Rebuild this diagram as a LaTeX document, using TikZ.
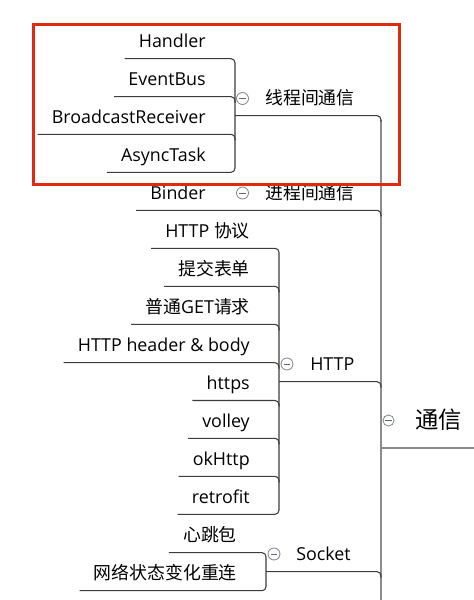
\documentclass[tikz,border=0pt]{standalone}
\usepackage{fontspec}
\setmainfont{Open Sans}
\newfontfamily\cjk{Noto Sans CJK SC}
\definecolor{linedark}{RGB}{60,60,60}
\definecolor{trunkgray}{RGB}{140,140,140}
\definecolor{foldgray}{RGB}{130,130,130}
\definecolor{minusblue}{RGB}{90,100,150}
\definecolor{framered}{RGB}{224,42,16}
\begin{document}
\begin{tikzpicture}[x=0.75pt,y=-0.75pt,
  txt/.style={font=\fontsize{13.4}{15}\selectfont, text=black},
  topic/.style={txt, inner xsep=10.5pt, inner ysep=0pt, text height=10pt, text depth=7.9pt, anchor=south east},
  ptopic/.style={txt, inner xsep=10.5pt, inner ysep=0pt, text height=10pt, text depth=7.9pt, anchor=south west},
  conn/.style={draw=linedark, line width=0.8pt, rounded corners=3pt},
  trunkline/.style={draw=trunkgray, line width=1.5pt},
  fold/.style={circle, draw=foldgray, fill=white, line width=0.6pt, minimum size=9pt, inner sep=0pt,
    path picture={\draw[draw=minusblue, line width=0.7pt] ([xshift=-2.4pt]path picture bounding box.center) -- ([xshift=2.4pt]path picture bounding box.center);}},
  frame/.style={draw=framered, line width=2.25pt}]
\useasboundingbox (0,0) rectangle (474,600);
\coordinate (b1) at (235,0);
\coordinate (b3) at (279,0);
\coordinate (b4) at (266,0);
\coordinate (tr) at (381,0);
\coordinate (trbot) at (381,600);
\coordinate (edge) at (474,0);
\coordinate (rootl) at (381,447.7);

% branch 1
\node[topic] (h) at (220,58.7) {Handler};
\node[topic] (eb) at (220,96.7) {EventBus};
\node[topic] (br) at (220,134.3) {BroadcastReceiver};
\node[topic] (at) at (220,172.3) {AsyncTask};
\node[ptopic] (p1) at (251,115.7) {\cjk 线程间通信};
% branch 2
\node[topic] (bi) at (220,210.3) {Binder};
\node[ptopic] (p2) at (251,210.3) {\cjk 进程间通信};
% branch 3
\node[topic] (h1) at (264,248.3) {HTTP {\cjk 协议}};
\node[topic] (h2) at (264,286.3) {\cjk 提交表单};
\node[topic] (h3) at (264,324.3) {{\cjk 普通}GET{\cjk 请求}};
\node[topic] (h4) at (264,362.7) {HTTP header \& body};
\node[topic] (h5) at (264,400.5) {https};
\node[topic] (h6) at (264,438.3) {volley};
\node[topic] (h7) at (264,476.3) {okHttp};
\node[topic] (h8) at (264,514.3) {retrofit};
\node[ptopic] (p3) at (296,381.7) {HTTP};
% branch 4
\node[topic] (s1) at (251,552.7) {\cjk 心跳包};
\node[topic] (s2) at (251,590.7) {\cjk 网络状态变化重连};
\node[ptopic] (p4) at (282,571.7) {Socket};
% root
\node[txt, font=\fontsize{17.5}{20}\selectfont, anchor=base west, inner sep=0pt] (root) at (415,428) {\cjk 通信};

% trunk
\draw[trunkline] (tr |- p1.south) ++(0,4) -- (trbot);
\draw[trunkline] (rootl) -- (rootl -| edge);

% connectors branch 1
\draw[conn] (h.south west) -- (b1 |- h.south) -- (b1 |- at.south) -- (at.south west);
\draw[conn] (eb.south west) -- (b1 |- eb.south) -- ++(0,6);
\draw[conn] (br.south west) -- (b1 |- br.south) -- ++(0,6);
\draw[conn] (b1 |- p1.south) -- (tr |- p1.south) -- ++(0,6);
% branch 2
\draw[conn] (bi.south west) -- (tr |- bi.south) -- ++(0,6);
% branch 3
\draw[conn] (h1.south west) -- (b3 |- h1.south) -- (b3 |- h8.south) -- (h8.south west);
\foreach \n in {h2,h3,h4,h5,h6,h7}{
  \draw[conn] (\n.south west) -- (b3 |- \n.south) -- ++(0,6);
}
\draw[conn] (b3 |- p3.south) -- (tr |- p3.south) -- ++(0,6);
% branch 4
\draw[conn] (s1.south west) -- (b4 |- s1.south) -- (b4 |- s2.south) -- (s2.south west);
\draw[conn] (b4 |- p4.south) -- (tr |- p4.south) -- ++(0,6);

% fold markers
\node[fold] (f1) at (242.5,98.5) {};
\node[fold] (f2) at (242.5,193) {};
\node[fold] (f3) at (287,364) {};
\node[fold] (f4) at (274,554) {};
\node[fold, minimum size=8.3pt] (f0) at (388.5,420.5) {};

% highlight frame
\draw[frame] (33.5,24.5) rectangle (399,184.3);
\end{tikzpicture}
\end{document}
